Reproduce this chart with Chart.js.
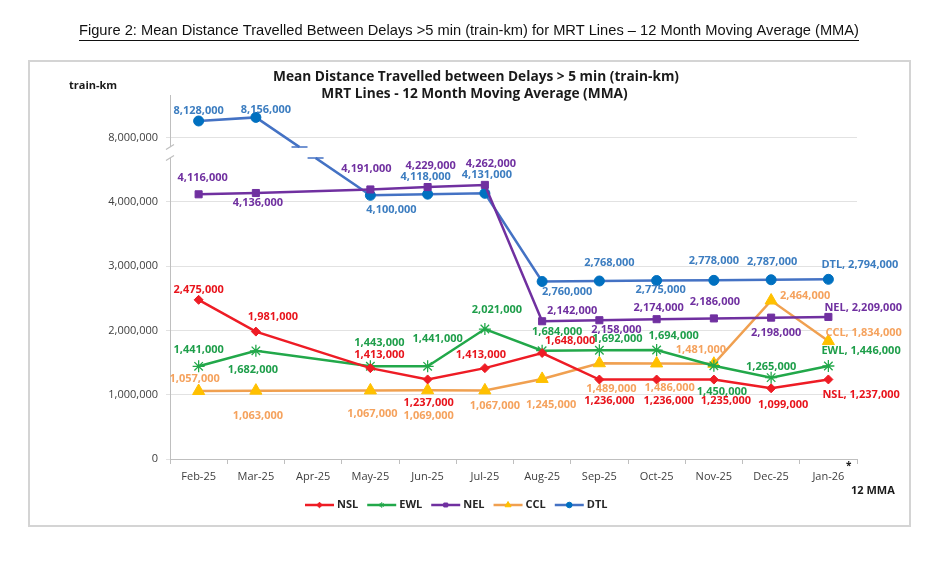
<!DOCTYPE html>
<html><head><meta charset="utf-8">
<script src="https://cdn.jsdelivr.net/npm/chart.js@4.4.1/dist/chart.umd.min.js"></script>
<style>html,body{margin:0;padding:0;background:#fff;width:944px;height:569px;overflow:hidden}
#c{position:absolute;left:0;top:0}</style></head>
<body><canvas id="c" width="944" height="569"></canvas>
<script>
// ---------- data ----------
const categories = ['Feb-25','Mar-25','Apr-25','May-25','Jun-25','Jul-25','Aug-25','Sep-25','Oct-25','Nov-25','Dec-25','Jan-26'];
const nsl = [2475000,1981000,null,1413000,1237000,1413000,1648000,1236000,1236000,1235000,1099000,1237000];
const ewl = [1441000,1682000,null,1443000,1441000,2021000,1684000,1692000,1694000,1450000,1265000,1446000];
const nel = [4116000,4136000,null,4191000,4229000,4262000,2142000,2158000,2174000,2186000,2198000,2209000];
const ccl = [1057000,1063000,null,1067000,1069000,1067000,1245000,1489000,1486000,1481000,2464000,1834000];
const dtl = [8128000,8156000,null,4100000,4118000,4131000,2760000,2768000,2775000,2778000,2787000,2794000];
const seriesNames = ['NSL','EWL','NEL','CCL','DTL'];
const yTickValues = [0,1000000,2000000,3000000,4000000,5000000];   // axis units
const yTickLabels = ['0','1,000,000','2,000,000','3,000,000','4,000,000','8,000,000'];

// ---------- broken axis mapping (values above the break drawn compressed) ----------
const BREAK_SRC = 8000000, BREAK_DST = 5000000, BREAK_K = 2;
const toAxis = v => v == null ? null : (v >= 6000000 ? BREAK_DST + (v - BREAK_SRC) * BREAK_K : v);

// ---------- styles ----------
const lineColors  = ['#EE1C25','#22A84A','#7030A0','#F0A050','#4472C4'];
const pointColors = ['#EE1C25','#22A84A','#7030A0','#FFC000','#0070C0'];
const labelColors = ['#E8141C','#1E9E4A','#7030A0','#F5A25D','#3C7DC0'];
const pointStyles = ['rectRot','star','rect','triangle','circle'];
const pointRadii  = [4.5,6,5,7,5];
// label offsets (dx, dy) from each point; last one is left-aligned
const labelOffsets = [
  [[0,-10],[17,-15],null,[9,-13],[1,23],[-4,-13],[28,-12],[10,21],[12,21],[12,21],[12,17],[-6,15.5]],
  [[0,-16],[-3,19],null,[9,-23],[10,-27],[12,-19],[15,-19],[18,-11],[17,-14],[8,26],[0,-11],[-7,-15]],
  [[4,-16],[2,10],null,[-4,-21],[3,-21],[6,-21],[30,-10],[17,10],[2,-11],[1,-17],[5,15],[-4,-9]],
  [[-4,-12],[2,25],null,[2,23],[1,26],[10,15],[9,26],[12,26],[13,24],[-13,-14],[34,-5],[-3,-8]],
  [[0,-10],[10,-8],null,[21,15],[-2,-17],[2,-18],[25,10],[10,-18],[4,9],[0,-19],[1,-18],[-7,-14]]
];
const allSeries = [nsl, ewl, nel, ccl, dtl];
const FONT = "'Open Sans', 'Noto Sans', sans-serif";

const fmt = v => v.toLocaleString('en-US');

const decor = {
  id: 'decor',
  beforeDraw(chart) {
    const ctx = chart.ctx;
    ctx.save();
    ctx.fillStyle = '#fff';
    ctx.fillRect(0, 0, chart.width, chart.height);
    // frame
    ctx.strokeStyle = '#D4D4D4';
    ctx.lineWidth = 2;
    ctx.strokeRect(29, 61, 881, 465);
    ctx.restore();
  },
  afterDatasetsDraw(chart) {
    const ctx = chart.ctx;
    const xs = chart.scales.x, ys = chart.scales.y;
    const yb1 = ys.getPixelForValue(4850000), yb2 = ys.getPixelForValue(4680000);
    ctx.save();
    // ---- DTL line break ----
    const meta = chart.getDatasetMeta(4);
    const pA = meta.data[1], pB = meta.data[3];
    const xAt = y => pA.x + (pB.x - pA.x) * (y - pA.y) / (pB.y - pA.y);
    const xa = xAt(yb1), xb = xAt(yb2);
    ctx.strokeStyle = '#fff';
    ctx.lineWidth = 6;
    ctx.lineCap = 'butt';
    ctx.beginPath(); ctx.moveTo(xa, yb1); ctx.lineTo(xb, yb2); ctx.stroke();
    ctx.strokeStyle = lineColors[4];
    ctx.lineWidth = 1.5;
    ctx.beginPath();
    ctx.moveTo(xa - 8, yb1); ctx.lineTo(xa + 8, yb1);
    ctx.moveTo(xb - 8, yb2); ctx.lineTo(xb + 8, yb2);
    ctx.stroke();
    // ---- y axis break ----
    const ax = chart.chartArea.left;
    ctx.strokeStyle = '#fff';
    ctx.lineWidth = 4;
    ctx.beginPath(); ctx.moveTo(ax, yb1); ctx.lineTo(ax, yb2); ctx.stroke();
    ctx.strokeStyle = '#BFBFBF';
    ctx.lineWidth = 1.2;
    ctx.beginPath();
    ctx.moveTo(ax - 4, yb1 + 2.5); ctx.lineTo(ax + 4, yb1 - 2.5);
    ctx.moveTo(ax - 4, yb2 + 2.5); ctx.lineTo(ax + 4, yb2 - 2.5);
    ctx.stroke();
    // ---- data labels ----
    ctx.font = `bold 11px ${FONT}`;
    ctx.textBaseline = 'middle';
    allSeries.forEach((arr, si) => {
      const m = chart.getDatasetMeta(si);
      arr.forEach((v, i) => {
        if (v == null) return;
        const el = m.data[i];
        const off = labelOffsets[si][i];
        ctx.fillStyle = labelColors[si];
        if (i === arr.length - 1) {
          ctx.textAlign = 'left';
          ctx.fillText(seriesNames[si] + ', ' + fmt(v), el.x + off[0], el.y + off[1]);
        } else {
          ctx.textAlign = 'center';
          ctx.fillText(fmt(v), el.x + off[0], el.y + off[1]);
        }
      });
    });
    ctx.restore();
  },
  afterDraw(chart) {
    const ctx = chart.ctx;
    const ca = chart.chartArea;
    ctx.save();
    ctx.textBaseline = 'middle';
    // page heading
    const head = 'Figure 2: Mean Distance Travelled Between Delays >5 min (train-km) for MRT Lines \u2013 12 Month Moving Average (MMA)';
    ctx.font = `15px 'Liberation Sans Narrow', 'Liberation Sans', sans-serif`;
    let w = ctx.measureText(head).width;
    const hw = 780, hcx = 469;
    ctx.save();
    ctx.translate(hcx, 31);
    ctx.scale(hw / w, 1);
    ctx.fillStyle = '#111';
    ctx.textAlign = 'center';
    ctx.fillText(head, 0, 0);
    ctx.restore();
    ctx.strokeStyle = '#111';
    ctx.lineWidth = 1;
    ctx.beginPath(); ctx.moveTo(hcx - hw / 2, 40.5); ctx.lineTo(hcx + hw / 2, 40.5); ctx.stroke();
    // chart title
    const t1 = 'Mean Distance Travelled between Delays > 5 min (train-km)';
    const t2 = 'MRT Lines - 12 Month Moving Average (MMA)';
    ctx.font = `bold 14px ${FONT}`;
    ctx.fillStyle = '#1A1A1A';
    ctx.textAlign = 'center';
    const w1 = ctx.measureText(t1).width;
    const sx = 406 / w1;
    ctx.save(); ctx.translate(476, 77); ctx.scale(sx, 1); ctx.fillText(t1, 0, 0); ctx.restore();
    ctx.save(); ctx.translate(474.5, 94); ctx.scale(sx, 1); ctx.fillText(t2, 0, 0); ctx.restore();
    // axis unit + x label
    ctx.font = `bold 11px ${FONT}`;
    ctx.textAlign = 'left';
    ctx.fillStyle = '#1A1A1A';
    ctx.fillText('train-km', 69, 86);
    ctx.fillText('12 MMA', 851, 491);
    ctx.font = `bold 10px ${FONT}`;
    ctx.fillText('*', ca.right - 11, 466);
    // legend
    ctx.font = `bold 11px ${FONT}`;
    let x = 305;
    const ly = 505;
    seriesNames.forEach((n, i) => {
      ctx.strokeStyle = lineColors[i];
      ctx.lineWidth = 2.5;
      ctx.beginPath(); ctx.moveTo(x, ly); ctx.lineTo(x + 29, ly); ctx.stroke();
      Chart.helpers.drawPoint(ctx, {pointStyle: pointStyles[i], radius: i === 3 ? 3.5 : 2.8, rotation: 0, borderWidth: 1}, x + 14.5, ly);
      ctx.fillStyle = '#262626';
      ctx.textAlign = 'left';
      ctx.fillText(n, x + 32, ly);
      x += 32 + ctx.measureText(n).width + 9;
    });
    ctx.restore();
  }
};

// legend marker colours need fill/stroke set before drawPoint; wrap
const origDraw = decor.afterDraw;
decor.afterDraw = function(chart) {
  const ctx = chart.ctx;
  const dp = Chart.helpers.drawPoint;
  let idx = 0;
  Chart.helpers.drawPoint = function(c, opts, x, y) {
    c.save();
    c.fillStyle = pointColors[idx]; c.strokeStyle = pointColors[idx];
    c.lineWidth = 1;
    dp(c, opts, x, y);
    c.restore();
    idx++;
  };
  try { origDraw.call(this, chart); } finally { Chart.helpers.drawPoint = dp; }
};

const datasets = allSeries.map((arr, i) => ({
  label: seriesNames[i],
  data: arr.map(toAxis),
  borderColor: lineColors[i],
  backgroundColor: pointColors[i],
  pointBackgroundColor: pointColors[i],
  pointBorderColor: pointColors[i],
  pointStyle: pointStyles[i],
  pointRadius: pointRadii[i],
  pointBorderWidth: i === 1 ? 1.3 : 1,
  borderWidth: 2.5,
  tension: 0,
  fill: false,
  spanGaps: true
}));

new Chart(document.getElementById('c'), {
  type: 'line',
  data: { labels: categories, datasets },
  options: {
    responsive: false,
    animation: false,
    devicePixelRatio: 1,
    layout: { padding: { left: 0, top: 95, right: 87, bottom: 0 } },
    plugins: { legend: { display: false }, tooltip: { enabled: false }, title: { display: false } },
    scales: {
      x: {
        type: 'category',
        offset: true,
        grid: { offset: true, drawOnChartArea: false, tickLength: 5, color: '#BFBFBF' },
        border: { color: '#BFBFBF', width: 1 },
        ticks: { font: { family: FONT, size: 11 }, color: '#404040', padding: 6, maxRotation: 0, autoSkip: false },
        afterFit: s => { s.height = 110; }
      },
      y: {
        min: 0,
        max: 5660000,
        afterBuildTicks: s => { s.ticks = yTickValues.map(v => ({ value: v })); },
        grid: { color: '#E2E2E2', tickLength: 4, lineWidth: 1 },
        border: { color: '#BFBFBF', width: 1 },
        ticks: {
          font: { family: FONT, size: 11 }, color: '#404040', padding: 8,
          callback: v => { const k = yTickValues.indexOf(v); return k >= 0 ? yTickLabels[k] : ''; }
        },
        afterFit: s => { s.width = 170; }
      }
    }
  },
  plugins: [decor]
});
</script>
</body></html>
